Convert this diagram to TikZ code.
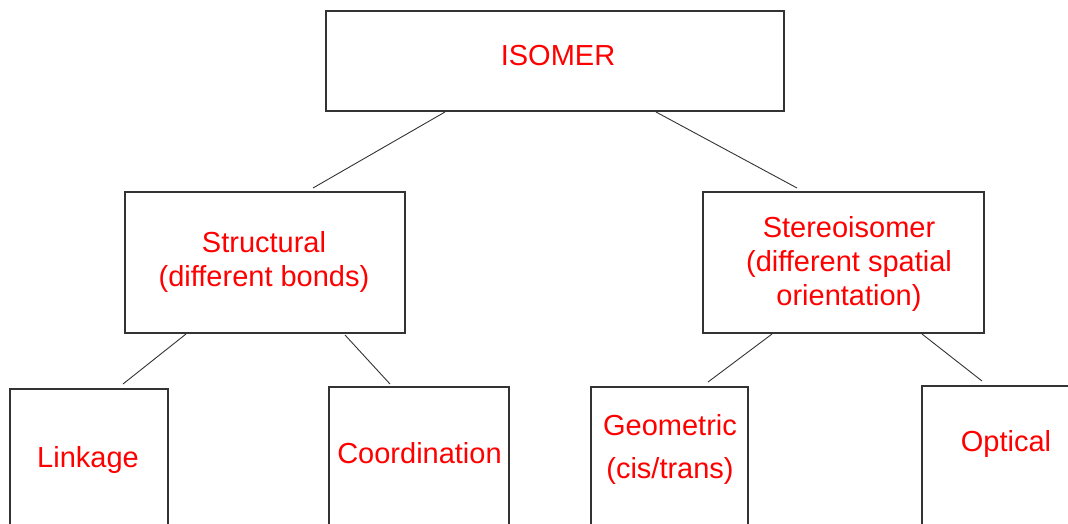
\documentclass[tikz,border=0pt]{standalone}
\usepackage{fontspec}
\setmainfont{Liberation Sans}
\usetikzlibrary{calc}
\begin{document}
\begin{tikzpicture}[x=1pt,y=-1pt,
  box/.style={draw=black!80,line width=1.3pt,rectangle,inner sep=0pt,outer sep=0pt},
  lbl/.style={text=red,align=center,inner sep=0pt,font=\fontsize{29}{34}\selectfont},
  conn/.style={draw=black!80,line width=0.9pt}]
\useasboundingbox (0,0) rectangle (1068,524);
\clip (0,0) rectangle (1068,524);
\fill[white] (0,0) rectangle (1068,524);
% boxes
\node[box,minimum width=458pt,minimum height=100pt] (iso) at (555,61) {};
\node[box,minimum width=280pt,minimum height=141pt] (struct) at (265,262.5) {};
\node[box,minimum width=281pt,minimum height=141pt] (stereo) at (843.5,262.5) {};
\node[box,minimum width=158pt,minimum height=171pt] (link) at (89,474.5) {};
\node[box,minimum width=180pt,minimum height=173pt] (coord) at (419,473.5) {};
\node[box,minimum width=157pt,minimum height=173pt] (geom) at (669.5,473.5) {};
\node[box,minimum width=178pt,minimum height=174pt] (opt) at (1011,473) {};
% labels
\node[lbl] (isoT) at (558,56) {ISOMER};
\node[lbl] (structT) at (264,262) {Structural\\(different bonds)};
\node[lbl] (stereoT) at (849,264) {Stereoisomer\\(different spatial\\orientation)};
\node[lbl] (linkT) at (88,460) {Linkage};
\node[lbl] (coordT) at (419.5,453) {Coordination};
\node[lbl,font=\fontsize{29}{43}\selectfont] (geomT) at (670,449) {Geometric\\(cis/trans)};
\node[lbl] (optT) at (1006,444) {Optical};
% connectors
\draw[conn] ($(iso.south west)+(119,1)$) -- ($(struct.north west)+(188,-4)$);
\draw[conn] ($(iso.south west)+(330,1)$) -- ($(stereo.north west)+(94,-4)$);
\draw[conn] ($(struct.south west)+(61,1)$) -- ($(link.north west)+(113,-5)$);
\draw[conn] ($(struct.south west)+(220,2)$) -- ($(coord.north west)+(61,-3)$);
\draw[conn] ($(stereo.south west)+(69,1)$) -- ($(geom.north west)+(117,-5)$);
\draw[conn] ($(stereo.south west)+(219,1)$) -- ($(opt.north west)+(60,-5)$);
\end{tikzpicture}
\end{document}
